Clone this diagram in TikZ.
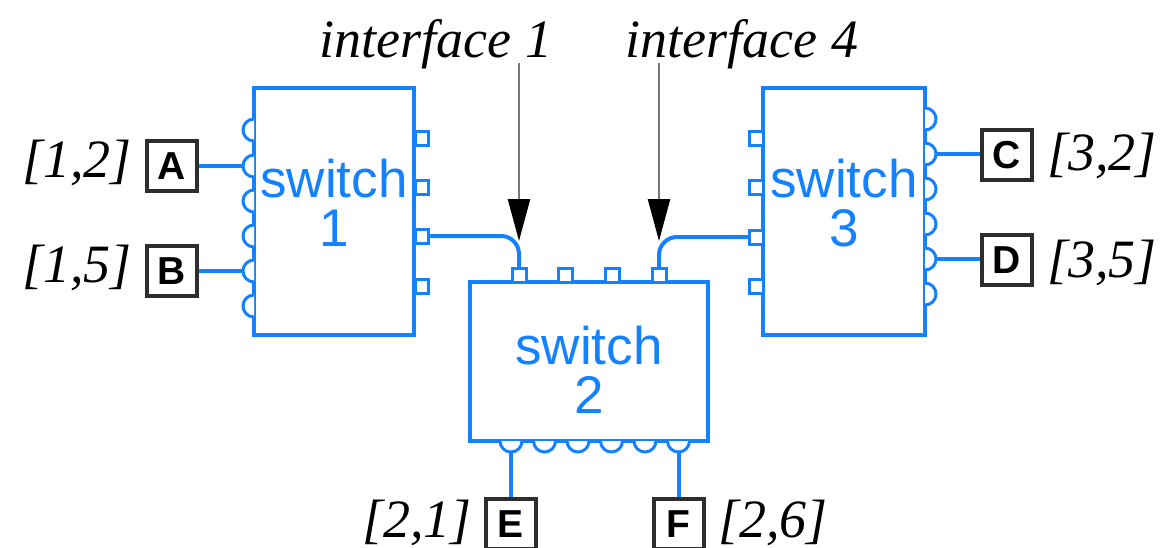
\documentclass[tikz,border=0pt]{standalone}
\usepackage{fontspec}
\setmainfont{Liberation Serif}
\newfontfamily\hvfont{Liberation Sans}
\usetikzlibrary{arrows.meta}
\definecolor{swblue}{RGB}{20,130,255}
\definecolor{boxgray}{RGB}{45,45,45}
\definecolor{arrgray}{RGB}{120,120,120}
\begin{document}
\begin{tikzpicture}[x=1pt,y=-1pt,
  switchbox/.style={draw=swblue, line width=3.5pt, fill=white, inner sep=0pt},
  swtext/.style={text=swblue, font=\hvfont\fontsize{53}{49}\selectfont, align=center, inner sep=0pt},
  lbl/.style={font=\itshape\fontsize{54}{60}\selectfont, inner sep=0pt},
  letterbox/.style={draw=boxgray, line width=4pt, fill=white, minimum width=50pt, minimum height=50pt, inner sep=0pt, font=\hvfont\bfseries\fontsize{39}{40}\selectfont},
  conn/.style={draw=swblue, line width=4pt},
  port/.style={draw=swblue, line width=3pt, fill=white},
  arr/.style={draw=arrgray, line width=2.5pt, -{Triangle[length=42pt,width=22pt,color=black]}}
]
\useasboundingbox (0,0) rectangle (1163,547);

% switches
\node[switchbox, minimum width=160pt, minimum height=247pt] (sw1) at (334,211.5) {};
\node[switchbox, minimum width=238pt, minimum height=159pt] (sw2) at (589,361.5) {};
\node[switchbox, minimum width=162pt, minimum height=247pt] (sw3) at (844,211.5) {};

% ports
\foreach \y in {130,166,201,236,271,306}
  \draw[port] (254,\y-11) arc[start angle=90,end angle=270,radius=11pt];
\foreach \y in {138,187,236,286}
  \draw[port] (415,\y-7) rectangle (428,\y+7);
\foreach \y in {138,187,237,286}
  \draw[port] (749,\y-7) rectangle (763,\y+7);
\foreach \y in {119,154,189,224,259,294}
  \draw[port] (925,\y-11) arc[start angle=90,end angle=-90,radius=11pt];
\foreach \x in {519,565,612,659}
  \draw[port] (\x-7,268) rectangle (\x+7,282);
\foreach \x in {511,544.5,578,611.5,645,678.5}
  \draw[port] (\x-11,441) arc[start angle=180,end angle=360,radius=11pt];

% switch labels
\node[swtext] (t1) at (334,203) {switch\\1};
\node[swtext] (t2) at (589,370) {switch\\2};
\node[swtext] (t3) at (844,203) {switch\\3};

% port coordinates
\coordinate (s1a) at (243,166);
\coordinate (s1b) at (243,271);
\coordinate (s1o) at (428,236);
\coordinate (s2i1) at (519,268);
\coordinate (s3o) at (749,237);
\coordinate (s2i4) at (659,268);
\coordinate (s3c) at (936,154);
\coordinate (s3d) at (936,259);
\coordinate (s2e) at (511,452);
\coordinate (s2f) at (678.5,452);

% hosts
\node[letterbox] (A) at (172,166) {A};
\node[letterbox] (B) at (172,271) {B};
\node[letterbox] (C) at (1007,155) {C};
\node[letterbox] (D) at (1007,260) {D};
\node[letterbox] (E) at (511,524) {E};
\node[letterbox] (F) at (678.5,524) {F};

% connectors
\draw[conn] (A.east) -- (s1a);
\draw[conn] (B.east) -- (s1b);
\draw[conn] (s3c) -- (s3c -| C.west);
\draw[conn] (s3d) -- (s3d -| D.west);
\draw[conn] (s2e) -- (s2e |- E.north);
\draw[conn] (s2f) -- (s2f |- F.north);
\draw[conn, rounded corners=18pt] (s1o) -| (s2i1);
\draw[conn, rounded corners=18pt] (s3o) -| (s2i4);

% address labels
\node[lbl, anchor=base east] (la) at (132,177) {[1,2]};
\node[lbl, anchor=base east] (lb) at (132,282) {[1,5]};
\node[lbl, anchor=base west] (lc) at (1047,170) {[3,2]};
\node[lbl, anchor=base west] (ld) at (1047,277) {[3,5]};
\node[lbl, anchor=base east] (le) at (472,537) {[2,1]};
\node[lbl, anchor=base west] (lf) at (718,537) {[2,6]};

% interface annotations
\node[lbl, anchor=base] (if1) at (436,57) {interface 1};
\node[lbl, anchor=base] (if4) at (742,57) {interface 4};
\coordinate (i1s) at (519,63);
\coordinate (i1e) at (519,241);
\coordinate (i4s) at (659,63);
\coordinate (i4e) at (659,241);
\draw[arr] (i1s) -- (i1e);
\draw[arr] (i4s) -- (i4e);
\end{tikzpicture}
\end{document}
